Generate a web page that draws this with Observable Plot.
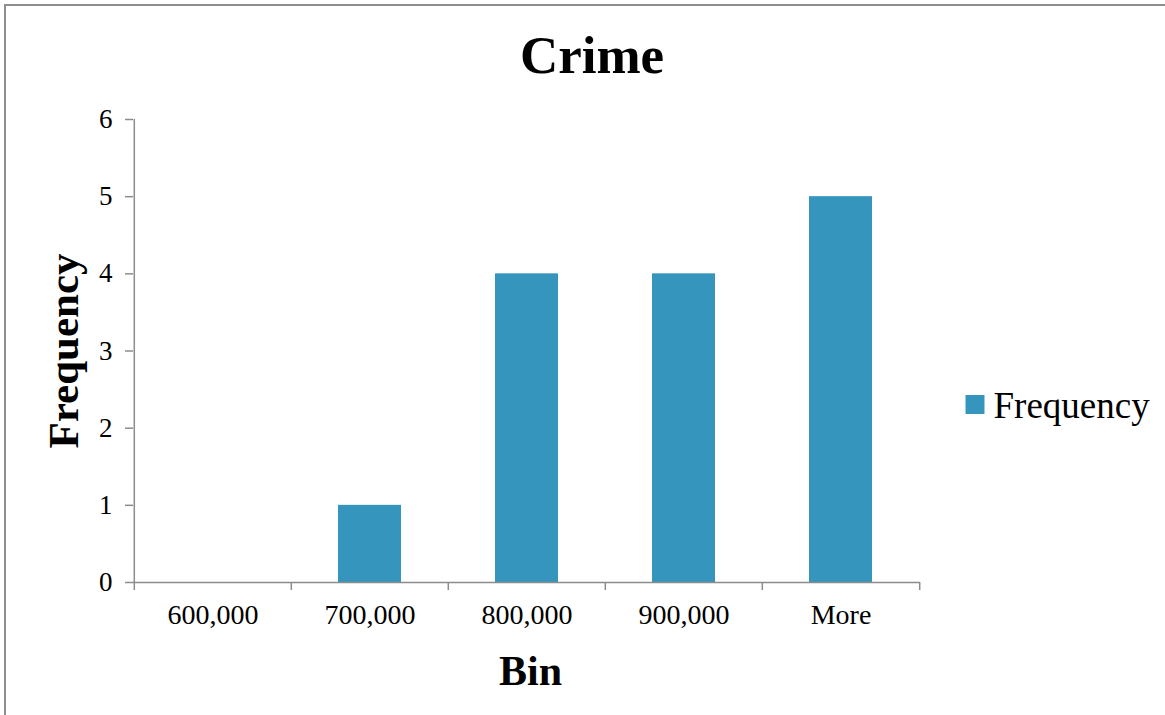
<!DOCTYPE html>
<html>
<head>
<meta charset="utf-8">
<script src="https://cdn.jsdelivr.net/npm/d3@7"></script>
<script src="https://cdn.jsdelivr.net/npm/@observablehq/plot@0.6"></script>
<style>
  html, body { margin: 0; padding: 0; background: #fff; overflow: hidden; }
  #wrap { position: relative; width: 1165px; height: 715px; }
  #border { position: absolute; left: 4px; top: 4px; right: -20px; bottom: -20px;
            border-left: 2px solid #8e8e8e; border-top: 2px solid #8e8e8e; pointer-events: none; }
  #chart { position: absolute; left: 0; top: 0; }
  #chart svg text { font-family: 'Liberation Serif', 'Times New Roman', serif; font-variant: normal; }
</style>
</head>
<body>
<div id="wrap"><div id="chart"></div><div id="border"></div></div>
<script>
const categories = ["600,000", "700,000", "800,000", "900,000", "More"];
const frequencies = [0, 1, 4, 4, 5];
const yTicks = [0, 1, 2, 3, 4, 5, 6];
const seriesName = "Frequency";
const title = "Crime";
const xLabel = "Bin";
const yLabel = "Frequency";

const data = categories.map((bin, i) => ({bin, frequency: frequencies[i]}));

const W = 1165, H = 715, mL = 133, mR = 245, mT = 119, mB = 133;
const step = (W - mL - mR) / categories.length;
const axisColor = "#8c8c8c";
const barColor = "#3595bc";
const serif = "'Liberation Serif', 'Times New Roman', serif";

const chart = Plot.plot({
  width: W, height: H,
  marginLeft: mL, marginRight: mR, marginTop: mT, marginBottom: mB,
  style: {fontFamily: serif, fontSize: "27px", color: "black", background: "transparent", overflow: "visible"},
  x: {domain: categories, paddingInner: 0.6, paddingOuter: 0.3, align: 0.5},
  y: {domain: [0, 6]},
  marks: [
    Plot.barY(data, {x: "bin", y: "frequency", fill: barColor}),
    Plot.ruleY([0], {stroke: axisColor, strokeWidth: 1.5}),
    Plot.ruleX([categories[0]], {y1: 0, y2: 6, dx: -step / 2, stroke: axisColor, strokeWidth: 1.5}),
    Plot.ruleX(categories, {y1: 0, y2: 0, dx: -step / 2, insetBottom: -8, stroke: axisColor, strokeWidth: 1.5}),
    Plot.ruleX([categories[categories.length - 1]], {y1: 0, y2: 0, dx: step / 2, insetBottom: -8, stroke: axisColor, strokeWidth: 1.5}),
    Plot.axisY({ticks: yTicks, tickFormat: d3.format("d"), tickSize: 8, tickPadding: 13, stroke: axisColor, strokeWidth: 1.5, label: null, fontSize: 27, fontFamily: serif}),
    Plot.axisX({tickSize: 0, tickPadding: 22, label: null, fontSize: 28, fontFamily: serif}),
    Plot.text([title], {frameAnchor: "top", textAnchor: "middle", dx: 65, dy: -63, fontSize: 53, fontWeight: "bold", lineAnchor: "middle"}),
    Plot.text([xLabel], {frameAnchor: "bottom", textAnchor: "middle", dx: 3.5, dy: 88.6, fontSize: 42, fontWeight: "bold", lineAnchor: "middle"}),
    Plot.text([yLabel], {frameAnchor: "left", textAnchor: "middle", dx: -69, rotate: -90, fontSize: 43, fontWeight: "bold", lineAnchor: "middle"}),
    Plot.dot([seriesName], {frameAnchor: "right", symbol: "square", r: 10.7, fill: barColor, stroke: null, dx: 54.5, dy: 53.5}),
    Plot.text([seriesName], {frameAnchor: "right", textAnchor: "start", dx: 73, dy: 55, fontSize: 37, lineAnchor: "middle"})
  ]
});
document.getElementById("chart").appendChild(chart);
</script>
</body>
</html>
